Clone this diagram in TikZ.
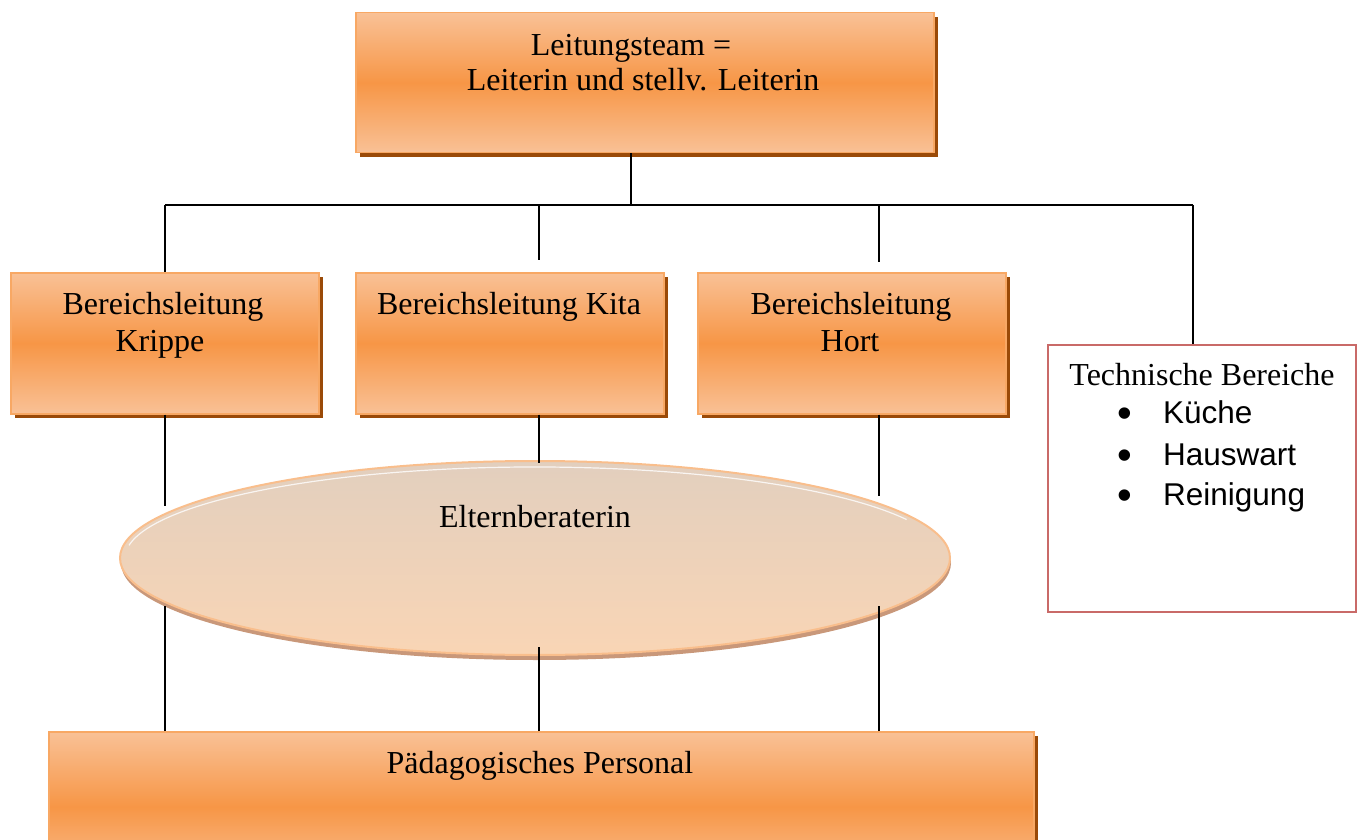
\documentclass[tikz,border=0pt]{standalone}
\usepackage{fontspec}
\setmainfont{Liberation Serif}
\newfontfamily\arialfont{Liberation Sans}
\usetikzlibrary{shadows,shapes.geometric}
\definecolor{orEdge}{HTML}{F9C196}
\definecolor{orMid}{HTML}{F79646}
\definecolor{orLine}{HTML}{F8A864}
\definecolor{orShadow}{HTML}{9A4A08}
\definecolor{elTop}{HTML}{E2CFBE}
\definecolor{elBot}{HTML}{F9D5B5}
\definecolor{elLine}{HTML}{F9BE8C}
\definecolor{elShadow}{HTML}{C9987A}
\definecolor{techRed}{HTML}{C0504D}
\begin{document}
\begin{tikzpicture}[x=1pt,y=-1pt,
  obox/.style={rectangle, draw=orLine, line width=1.5pt, top color=orEdge, bottom color=orEdge, middle color=orMid,
    anchor=north west, inner sep=0pt, minimum width=308pt, minimum height=141pt,
    general shadow={fill=orShadow, shadow xshift=4pt, shadow yshift=-4pt}},
  txt/.style={font=\fontsize{32}{36}\selectfont, inner sep=0pt, anchor=base},
  atxt/.style={font=\arialfont\fontsize{31.5}{36}\selectfont, inner sep=0pt},
  bul/.style={font=\arialfont\fontsize{42}{44}\selectfont, inner sep=0pt, anchor=base},
  conn/.style={draw=black, line width=1.3pt}]
\useasboundingbox (0,0) rectangle (1361,840);
\clip (0,0) rectangle (1361,840);

% boxes
\node[obox, minimum width=578pt, minimum height=140pt] (lead) at (355,12) {};
\node[txt] (leadA) at (631,56) {Leitungsteam =};
\node[txt] (leadB) at (643,91) {Leiterin und stellv. Leiterin};

\node[obox] (krippe) at (10,272) {};
\node[txt] (krippeA) at (163,314) {Bereichsleitung};
\node[txt] (krippeB) at (160,351) {Krippe};

\node[obox] (kita) at (355,272) {};
\node[txt] (kitaA) at (509,314) {Bereichsleitung Kita};

\node[obox] (hort) at (697,272) {};
\node[txt] (hortA) at (851,314) {Bereichsleitung};
\node[txt] (hortB) at (850,351) {Hort};

\node[rectangle, draw=techRed!85, line width=1.5pt, fill=white, anchor=north west,
  minimum width=308pt, minimum height=267pt, inner sep=0pt] (tech) at (1047,344) {};
\node[txt] (techA) at (1202,385) {Technische Bereiche};
\node[bul] (b1) at (1125,427) {\textbullet};
\node[atxt, anchor=base west] (i1) at (1163,423) {Küche};
\node[bul] (b2) at (1125,469) {\textbullet};
\node[atxt, anchor=base west] (i2) at (1163,465) {Hauswart};
\node[bul] (b3) at (1125,509) {\textbullet};
\node[atxt, anchor=base west] (i3) at (1163,505) {Reinigung};

% ellipse
\node[ellipse, minimum width=830pt, minimum height=194pt, inner sep=0pt, draw=elLine, line width=2pt,
  top color=elTop, bottom color=elBot,
  general shadow={fill=elShadow, shadow xshift=1pt, shadow yshift=-5pt}] (el) at (535,558) {};
\draw[white!80!elTop, line width=1.2pt] (el.center) ++(25:410pt and 91pt) arc[start angle=25, end angle=172, x radius=410pt, y radius=91pt];
\node[txt] (elA) at (535,527) {Elternberaterin};

\node[obox, minimum width=985pt, minimum height=150pt] (pers) at (48,731) {};
\node[txt] (persA) at (540,773) {Pädagogisches Personal};

% connectors
\coordinate (bus) at (631,205);
\coordinate (busL) at (165,205);
\coordinate (busR) at (1193,205);
\coordinate (tapKita) at (539,205);
\coordinate (tapHort) at (879,205);
\draw[conn] (lead.south -| bus) -- (bus);
\draw[conn] (busL) -- (busR);
\draw[conn] (busL) -- (krippe.north -| busL);
\draw[conn, shorten >=12pt] (tapKita) -- (kita.north -| tapKita);
\draw[conn, shorten >=10pt] (tapHort) -- (hort.north -| tapHort);
\draw[conn] (busR) -- (tech.north -| busR);

\draw[conn] (krippe.south -| busL) -- ++(0,91);
\draw[conn] (pers.north -| busL) -- ++(0,-125);
\draw[conn] (kita.south -| tapKita) -- ++(0,48);
\draw[conn] (pers.north -| tapKita) -- ++(0,-84);
\draw[conn] (hort.south -| tapHort) -- ++(0,81);
\draw[conn] (pers.north -| tapHort) -- ++(0,-125);
\end{tikzpicture}
\end{document}
